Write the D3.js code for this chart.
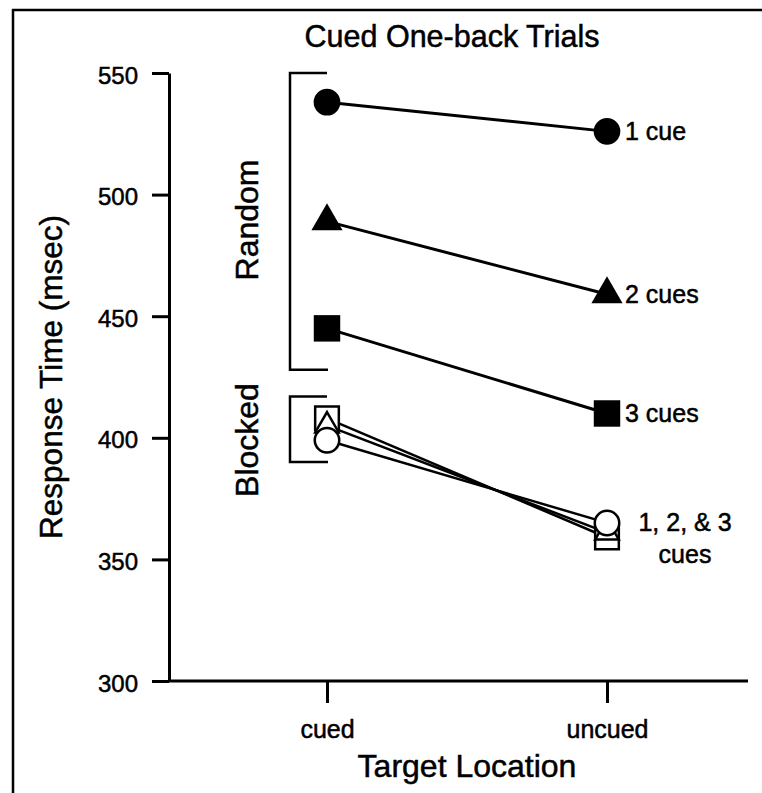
<!DOCTYPE html>
<html>
<head>
<meta charset="utf-8">
<script src="https://cdn.jsdelivr.net/npm/d3@7/dist/d3.min.js"></script>
<style>
  html, body { margin: 0; padding: 0; background: #fff; }
  svg { display: block; }
  text { font-family: "Liberation Sans", Arial, Helvetica, sans-serif; fill: #000; stroke: #000; stroke-width: 0.5px; }
</style>
</head>
<body>
<svg id="chart" width="762" height="793"></svg>
<script>
// Target location categories on the x axis
const categories = ["cued", "uncued"];
const yTicks = [300, 350, 400, 450, 500, 550];

// Mean response times (msec), random cue-count condition (filled markers)
const randomOneCue = [538, 526];
const randomTwoCues = [489, 459];
const randomThreeCues = [445, 410];

// Mean response times (msec), blocked cue-count condition (open markers)
const blockedOneCue = [399, 365];
const blockedTwoCues = [405, 361];
const blockedThreeCues = [408, 359];

// Extents of the bracket that groups each condition (msec)
const randomSpan = [428, 550];
const blockedSpan = [390, 417];

const svg = d3.select("#chart");
const W = 762, H = 793;
svg.append("rect").attr("width", W).attr("height", H).attr("fill", "#fff");

// page frame: left and top edges
svg.append("line").attr("x1", 13).attr("x2", 13).attr("y1", 9).attr("y2", H)
  .attr("stroke", "#000").attr("stroke-width", 2.5);
svg.append("line").attr("x1", 12).attr("x2", W).attr("y1", 10).attr("y2", 10)
  .attr("stroke", "#000").attr("stroke-width", 2.5);

const axisX = 169, axisRight = 748;
const y = d3.scaleLinear().domain([300, 550]).range([681, 73]);
const x = d3.scalePoint().domain(categories).range([327, 607]);

// y axis
const yAxis = svg.append("g").attr("transform", `translate(${axisX},0)`)
  .call(d3.axisLeft(y).tickValues(yTicks).tickSize(17).tickSizeOuter(0).tickPadding(14));
yAxis.select(".domain").attr("stroke-width", 3);
yAxis.selectAll(".tick line").attr("stroke-width", 3);
yAxis.selectAll(".tick text").attr("font-size", 24).attr("dy", "0.42em")
  .style("font-family", "'Liberation Sans', Arial, sans-serif");

// x axis
const xAxis = svg.append("g").attr("transform", `translate(0,${y(300)})`)
  .call(d3.axisBottom(x).tickSize(22).tickSizeOuter(0).tickPadding(17));
xAxis.select(".domain").remove();
xAxis.append("line").attr("x1", axisX).attr("x2", axisRight).attr("y1", 0).attr("y2", 0)
  .attr("stroke", "#000").attr("stroke-width", 3);
xAxis.selectAll(".tick line").attr("stroke-width", 3);
xAxis.selectAll(".tick text").attr("font-size", 25).attr("dy", "0.71em")
  .style("font-family", "'Liberation Sans', Arial, sans-serif");

// titles
svg.append("text").attr("x", 452).attr("y", 47).attr("text-anchor", "middle")
  .attr("font-size", 30.5).text("Cued One-back Trials");
svg.append("text").attr("x", 467).attr("y", 777).attr("text-anchor", "middle")
  .attr("font-size", 32).text("Target Location");
svg.append("text").attr("transform", "translate(62,377) rotate(-90)")
  .attr("text-anchor", "middle").attr("font-size", 31.5).text("Response Time (msec)");

// condition brackets
const bracketX = x("cued") - 37;
function bracket(span, label, labelY) {
  const y0 = y(span[1]), y1 = y(span[0]);
  svg.append("path")
    .attr("d", `M${x("cued")},${y0}H${bracketX}V${y1}H${x("cued") + 1}`)
    .attr("fill", "none").attr("stroke", "#000").attr("stroke-width", 2.5);
  svg.append("text").attr("transform", `translate(${bracketX - 32},${labelY}) rotate(-90)`)
    .attr("text-anchor", "middle").attr("font-size", 32).text(label);
}
bracket(randomSpan, "Random", 220);
bracket(blockedSpan, "Blocked", 440);

const lineGen = d3.line().x((d, i) => x(categories[i])).y(d => y(d));

const randomSeries = [
  { values: randomOneCue, shape: d3.symbolCircle, size: 560, label: "1 cue" },
  { values: randomTwoCues, shape: d3.symbolTriangle, size: 421, label: "2 cues" },
  { values: randomThreeCues, shape: d3.symbolSquare, size: 700, label: "3 cues" }
];
const blockedSeries = [
  { values: blockedThreeCues, shape: d3.symbolSquare, size: 560 },
  { values: blockedTwoCues, shape: d3.symbolTriangle, size: 240 },
  { values: blockedOneCue, shape: d3.symbolCircle, size: 470 }
];

// blocked lines and open markers
blockedSeries.forEach(s => {
  svg.append("path").attr("d", lineGen(s.values))
    .attr("fill", "none").attr("stroke", "#000").attr("stroke-width", 2.5);
});
blockedSeries.forEach(s => {
  s.values.forEach((v, i) => {
    svg.append("path").attr("d", d3.symbol(s.shape, s.size)())
      .attr("transform", `translate(${x(categories[i])},${y(v)})`)
      .attr("fill", "#fff").attr("stroke", "#000").attr("stroke-width", 2.5);
  });
});

// random lines and filled markers
randomSeries.forEach(s => {
  svg.append("path").attr("d", lineGen(s.values))
    .attr("fill", "none").attr("stroke", "#000").attr("stroke-width", 3);
  s.values.forEach((v, i) => {
    svg.append("path").attr("d", d3.symbol(s.shape, s.size)())
      .attr("transform", `translate(${x(categories[i])},${y(v)})`)
      .attr("fill", "#000");
  });
  svg.append("text").attr("x", x("uncued") + 18).attr("y", y(s.values[1]) + 9)
    .attr("font-size", 25).text(s.label);
});

// blocked label
const bx = x("uncued") + 78, by = y(blockedOneCue[1]) + 8;
const blockedLabel = svg.append("text").attr("text-anchor", "middle").attr("font-size", 25);
blockedLabel.append("tspan").attr("x", bx).attr("y", by).text("1, 2, & 3");
blockedLabel.append("tspan").attr("x", bx).attr("y", by + 32).text("cues");
</script>
</body>
</html>
